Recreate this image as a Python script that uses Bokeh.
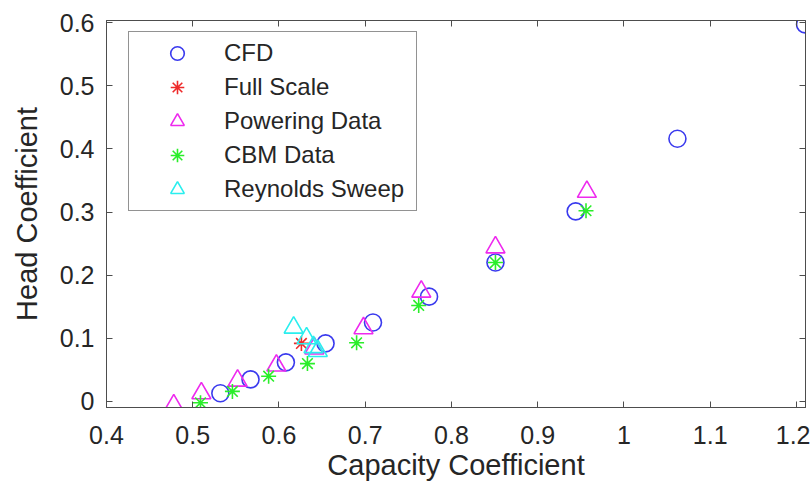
from bokeh.plotting import figure
from bokeh.models import LinearAxis, FixedTicker, Legend, LegendItem, Range1d
from bokeh.embed import file_html
from bokeh.resources import INLINE

# ---- data ----
cfd_x = [0.532, 0.567, 0.608, 0.654, 0.709, 0.774, 0.851, 0.944, 1.062, 1.210]
cfd_y = [0.013, 0.035, 0.062, 0.092, 0.125, 0.166, 0.220, 0.301, 0.416, 0.597]

full_x = [0.626]
full_y = [0.092]

pow_x = [0.478, 0.510, 0.552, 0.597, 0.641, 0.698, 0.765, 0.851, 0.957]
pow_y = [-0.006, 0.013, 0.033, 0.057, 0.084, 0.116, 0.174, 0.244, 0.332]

cbm_x = [0.509, 0.546, 0.588, 0.633, 0.690, 0.762, 0.851, 0.956]
cbm_y = [-0.002, 0.016, 0.040, 0.060, 0.093, 0.152, 0.220, 0.302]

rey_x = [0.617, 0.632, 0.640, 0.645]
rey_y = [0.117, 0.100, 0.086, 0.080]

x_ticks = [0.4, 0.5, 0.6, 0.7, 0.8, 0.9, 1.0, 1.1, 1.2]
x_tick_labels = ["0.4", "0.5", "0.6", "0.7", "0.8", "0.9", "1", "1.1", "1.2"]
y_ticks = [0.0, 0.1, 0.2, 0.3, 0.4, 0.5, 0.6]
y_tick_labels = ["0", "0.1", "0.2", "0.3", "0.4", "0.5", "0.6"]

FONT = "Liberation Sans"
AX = "#4d4d4d"
TXT = "#262626"

p = figure(width=810, height=490, output_backend="svg", toolbar_location=None,
           x_range=Range1d(0.4, 1.2105), y_range=Range1d(-0.0095, 0.6032),
           x_axis_location=None, y_axis_location=None,
           min_border_left=106, min_border_right=5, min_border_top=20, min_border_bottom=83)
p.xgrid.visible = False
p.ygrid.visible = False
p.outline_line_color = AX
p.outline_line_width = 1

def style(ax, ticks, labels, show):
    ax.ticker = FixedTicker(ticks=ticks)
    ax.minor_tick_line_color = None
    ax.major_tick_in = 6
    ax.major_tick_out = 0
    ax.axis_line_color = AX
    ax.major_tick_line_color = AX
    ax.major_label_text_font = FONT
    ax.major_label_text_color = TXT
    if show:
        ax.major_label_overrides = dict(zip(ticks, labels))
        ax.major_label_text_font_size = "25px"
    else:
        ax.major_label_overrides = {t: "" for t in ticks}
        ax.major_label_text_font_size = "10px"
        ax.major_label_text_color = None
        ax.major_label_standoff = 0

xb = LinearAxis(axis_label="Capacity Coefficient")
style(xb, x_ticks, x_tick_labels, True)
xb.major_label_standoff = 18
xb.axis_label_standoff = 2
xb.axis_label_text_font = FONT
xb.axis_label_text_font_size = "29px"
xb.axis_label_text_font_style = "normal"
xb.axis_label_text_color = TXT
p.add_layout(xb, "below")

yl = LinearAxis(axis_label="Head Coefficient")
style(yl, y_ticks, y_tick_labels, True)
yl.major_label_standoff = 12
yl.axis_label_standoff = 14
yl.axis_label_text_font = FONT
yl.axis_label_text_font_size = "29px"
yl.axis_label_text_font_style = "normal"
yl.axis_label_text_color = TXT
p.add_layout(yl, "left")

xt = LinearAxis()
style(xt, x_ticks, x_tick_labels, False)
p.add_layout(xt, "above")
yr = LinearAxis()
style(yr, y_ticks, y_tick_labels, False)
p.add_layout(yr, "right")

LW = 1.6
r_cfd = p.scatter(cfd_x, cfd_y, marker="circle", size=17, fill_color=None,
                  line_color="#3a3aee", line_width=LW)
r_full = p.scatter(full_x, full_y, marker="asterisk", size=15,
                   line_color="#ee2a2a", line_width=LW)
r_pow = p.scatter(pow_x, pow_y, marker="triangle", size=19, fill_color=None,
                  line_color="#ee2aee", line_width=LW)
r_cbm = p.scatter(cbm_x, cbm_y, marker="asterisk", size=15,
                  line_color="#2aee2a", line_width=LW)
r_rey = p.scatter(rey_x, rey_y, marker="triangle", size=19, fill_color=None,
                  line_color="#2aeeee", line_width=LW)

legend = Legend(items=[
    LegendItem(label="CFD", renderers=[r_cfd]),
    LegendItem(label="Full Scale", renderers=[r_full]),
    LegendItem(label="Powering Data", renderers=[r_pow]),
    LegendItem(label="CBM Data", renderers=[r_cbm]),
    LegendItem(label="Reynolds Sweep", renderers=[r_rey]),
], location=(22, 196))
legend.label_text_font = FONT
legend.label_text_font_size = "24px"
legend.label_text_color = TXT
legend.glyph_width = 88
legend.glyph_height = 34
legend.label_standoff = 3
legend.label_width = 188
legend.padding = 4
legend.spacing = 0
legend.border_line_color = TXT
legend.border_line_width = 1
legend.background_fill_alpha = 1
p.add_layout(legend, "center")

open("out.html", "w").write(file_html(p, INLINE))
